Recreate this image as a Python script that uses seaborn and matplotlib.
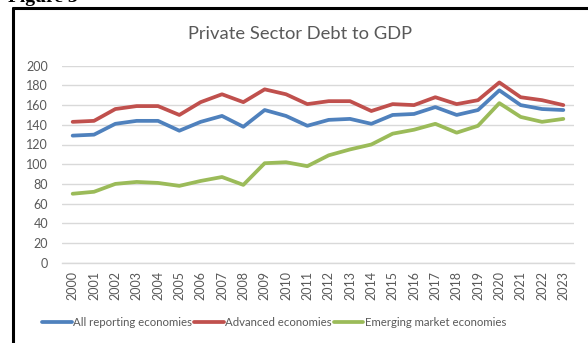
import matplotlib
matplotlib.use("Agg")
import matplotlib.pyplot as plt
import seaborn as sns
import pandas as pd
from matplotlib.lines import Line2D

years = [str(y) for y in range(2000, 2024)]
all_reporting = [129, 130, 141, 144, 144, 134, 143, 149, 138, 155, 149, 139,
                 145, 146, 141, 150, 151, 158, 150, 155, 175, 160, 156, 155]
advanced = [143, 144, 156, 159, 159, 150, 163, 171, 163, 176, 171, 161,
            164, 164, 154, 161, 160, 168, 161, 165, 183, 168, 165, 160]
emerging = [70, 72, 80, 82, 81, 78, 83, 87, 79, 101, 102, 98,
            109, 115, 120, 131, 135, 141, 132, 139, 162, 148, 143, 146]
series_names = ["All reporting economies", "Advanced economies", "Emerging market economies"]
colors = ["#4F81BD", "#C0504D", "#9BBB59"]
yticks = list(range(0, 201, 20))

df = pd.DataFrame({"Year": years * 3,
                   "Value": all_reporting + advanced + emerging,
                   "Series": [s for s in series_names for _ in years]})

sns.set_theme(style="white")
plt.rcParams["font.family"] = ["Lato", "DejaVu Sans"]

fig = plt.figure(figsize=(5.88, 3.43), dpi=100)
ax = fig.add_axes([62/588, 1-262.7/343, (574-62)/588, (262.7-65.7)/343])

sns.lineplot(data=df, x="Year", y="Value", hue="Series", palette=colors,
             linewidth=2.7, ax=ax, legend=False, sort=False)

ax.set_xlim(-0.5, len(years) - 0.5)
ax.set_ylim(0, 200)
ax.set_yticks(yticks)
ax.set_yticklabels([str(v) for v in yticks])
ax.set_xticks(range(len(years)))
ax.set_xticklabels(years, rotation=90)
ax.tick_params(axis="both", labelsize=9, colors="#595959", length=0)
ax.tick_params(axis="y", pad=10)
ax.tick_params(axis="x", pad=6)
ax.set_xlabel("")
ax.set_ylabel("")
ax.grid(axis="y", color="#D9D9D9", linewidth=1)
ax.set_axisbelow(True)
for s in ["top", "right", "left"]:
    ax.spines[s].set_visible(False)
ax.spines["bottom"].set_color("#D9D9D9")
ax.spines["bottom"].set_linewidth(1)

fig.text(300/588, 1-34/343, "Private Sector Debt to GDP", ha="center", va="center",
         fontsize=13.2, color="#595959")

handles = [Line2D([0], [0], color=c, linewidth=2.7) for c in colors]
fig.legend(handles, series_names, loc="center", bbox_to_anchor=(274/588, 1-322/343),
           ncol=3, frameon=False, fontsize=8.2, handlelength=2.6, handletextpad=0.1,
           columnspacing=0.2, labelcolor="#595959")

# outer border (left and top visible)
fig.add_artist(Line2D([13/588, 13/588], [0, 1-8/343], color="black", linewidth=2.2,
                      transform=fig.transFigure))
fig.add_artist(Line2D([13/588, 1.0], [1-8/343, 1-8/343], color="black", linewidth=2.2,
                      transform=fig.transFigure))
fig.text(8/588, 1-2/343, "Figure 3", ha="left", va="baseline", fontsize=14,
         fontweight="bold", family=["Liberation Serif"], color="black")

fig.savefig("out.png", dpi=100, facecolor="white")
